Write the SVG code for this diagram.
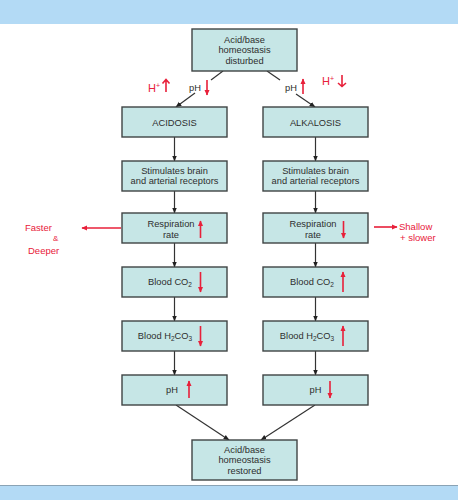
<svg xmlns="http://www.w3.org/2000/svg" width="458" height="500" viewBox="0 0 458 500">
<defs>
<style>
.box{fill:#c6e6e6;stroke:#3f4444;stroke-width:1.4}
.t{font-family:"Liberation Sans",Arial,sans-serif;font-size:9.3px;fill:#2e2e2e;text-anchor:middle}
.c{stroke:#333;stroke-width:1.2;fill:none}
.r{stroke:#e8203a;stroke-width:1.6;fill:none}
.hw{font-family:"Liberation Sans",sans-serif;fill:#e8203a}
</style>
<marker id="ah" viewBox="0 0 10 10" refX="9" refY="5" markerWidth="6" markerHeight="6" orient="auto-start-reverse" markerUnits="userSpaceOnUse"><path d="M0,1 L10,5 L0,9 Z" fill="#222"/></marker>
<marker id="rh" viewBox="0 0 10 10" refX="9" refY="5" markerWidth="6" markerHeight="6" orient="auto" markerUnits="userSpaceOnUse"><path d="M0,0.5 L10,5 L0,9.5 Z" fill="#e8203a"/></marker>
</defs>
<rect x="0" y="0" width="458" height="24" fill="#b3daf5"/>
<rect x="0" y="485" width="458" height="15" fill="#b3daf5"/>
<line x1="0" y1="485.5" x2="458" y2="485.5" stroke="#8aa3b5" stroke-width="1.2"/>

<g id="connectors">
<line class="c" x1="223" y1="71" x2="211" y2="80"/>
<line class="c" x1="195" y1="93" x2="176" y2="107" marker-end="url(#ah)"/>
<line class="c" x1="267" y1="71" x2="280" y2="80"/>
<line class="c" x1="296" y1="94" x2="315" y2="107" marker-end="url(#ah)"/>
<line class="c" x1="174.5" y1="137" x2="174.5" y2="161" marker-end="url(#ah)"/>
<line class="c" x1="174.5" y1="191" x2="174.5" y2="213" marker-end="url(#ah)"/>
<line class="c" x1="174.5" y1="243" x2="174.5" y2="267" marker-end="url(#ah)"/>
<line class="c" x1="174.5" y1="297" x2="174.5" y2="321" marker-end="url(#ah)"/>
<line class="c" x1="174.5" y1="351" x2="174.5" y2="375" marker-end="url(#ah)"/>
<line class="c" x1="315.5" y1="137" x2="315.5" y2="161" marker-end="url(#ah)"/>
<line class="c" x1="315.5" y1="191" x2="315.5" y2="213" marker-end="url(#ah)"/>
<line class="c" x1="315.5" y1="243" x2="315.5" y2="267" marker-end="url(#ah)"/>
<line class="c" x1="315.5" y1="297" x2="315.5" y2="321" marker-end="url(#ah)"/>
<line class="c" x1="315.5" y1="351" x2="315.5" y2="375" marker-end="url(#ah)"/>
<line class="c" x1="176" y1="405" x2="229" y2="440" marker-end="url(#ah)"/>
<line class="c" x1="315" y1="405" x2="261" y2="440" marker-end="url(#ah)"/>
</g>

<g id="label-ph-left">
<text class="t" x="195" y="90.5">pH</text>
<line class="r" x1="207" y1="80" x2="207" y2="95" marker-end="url(#rh)"/>
</g>
<g id="label-ph-right">
<text class="t" x="291" y="90.5">pH</text>
<line class="r" x1="303" y1="94" x2="303" y2="79" marker-end="url(#rh)"/>
</g>

<g id="n-top"><rect class="box" x="192" y="29" width="105" height="42"/>
<text class="t" x="244.5" y="42.5">Acid/base</text><text class="t" x="244.5" y="53.3">homeostasis</text><text class="t" x="244.5" y="64">disturbed</text></g>

<g id="n-acidosis"><rect class="box" x="122" y="107" width="105" height="30"/><text class="t" x="174.5" y="125.5">ACIDOSIS</text></g>
<g id="n-alkalosis"><rect class="box" x="263" y="107" width="105" height="30"/><text class="t" x="315.5" y="125.5">ALKALOSIS</text></g>

<g id="n-stim-l"><rect class="box" x="122" y="161" width="105" height="30"/><text class="t" x="174.5" y="173.5">Stimulates brain</text><text class="t" x="174.5" y="184.2">and arterial receptors</text></g>
<g id="n-stim-r"><rect class="box" x="263" y="161" width="105" height="30"/><text class="t" x="315.5" y="173.5">Stimulates brain</text><text class="t" x="315.5" y="184.2">and arterial receptors</text></g>

<g id="n-resp-l"><rect class="box" x="122" y="213" width="105" height="30"/><text class="t" x="171" y="227.3">Respiration</text><text class="t" x="171" y="237.5">rate</text>
<line class="r" x1="200.5" y1="238" x2="200.5" y2="221" marker-end="url(#rh)"/></g>
<g id="n-resp-r"><rect class="box" x="263" y="213" width="105" height="30"/><text class="t" x="313" y="227.3">Respiration</text><text class="t" x="313" y="237.5">rate</text>
<line class="r" x1="343.5" y1="221" x2="343.5" y2="238" marker-end="url(#rh)"/></g>

<g id="n-co2-l"><rect class="box" x="122" y="267" width="105" height="30"/><text class="t" x="170" y="284.5">Blood CO<tspan font-size="6.5" dy="2">2</tspan></text>
<line class="r" x1="200.5" y1="272" x2="200.5" y2="292" marker-end="url(#rh)"/></g>
<g id="n-co2-r"><rect class="box" x="263" y="267" width="105" height="30"/><text class="t" x="312" y="284.5">Blood CO<tspan font-size="6.5" dy="2">2</tspan></text>
<line class="r" x1="343" y1="292" x2="343" y2="272" marker-end="url(#rh)"/></g>

<g id="n-h2co3-l"><rect class="box" x="122" y="321" width="105" height="30"/><text class="t" x="165" y="338.5">Blood H<tspan font-size="6.5" dy="2">2</tspan><tspan dy="-2">CO</tspan><tspan font-size="6.5" dy="2">3</tspan></text>
<line class="r" x1="200.5" y1="326" x2="200.5" y2="346" marker-end="url(#rh)"/></g>
<g id="n-h2co3-r"><rect class="box" x="263" y="321" width="105" height="30"/><text class="t" x="307" y="338.5">Blood H<tspan font-size="6.5" dy="2">2</tspan><tspan dy="-2">CO</tspan><tspan font-size="6.5" dy="2">3</tspan></text>
<line class="r" x1="343" y1="346" x2="343" y2="326" marker-end="url(#rh)"/></g>

<g id="n-ph-l"><rect class="box" x="122" y="375" width="105" height="30"/><text class="t" x="172" y="392.5">pH</text>
<line class="r" x1="189" y1="398" x2="189" y2="381" marker-end="url(#rh)"/></g>
<g id="n-ph-r"><rect class="box" x="263" y="375" width="105" height="30"/><text class="t" x="315.5" y="392.5">pH</text>
<line class="r" x1="330" y1="381" x2="330" y2="398" marker-end="url(#rh)"/></g>

<g id="n-bottom"><rect class="box" x="192" y="440" width="105" height="40"/>
<text class="t" x="244.5" y="452.5">Acid/base</text><text class="t" x="244.5" y="463.3">homeostasis</text><text class="t" x="244.5" y="474">restored</text></g>

<g id="annotations">
<text class="hw" x="148" y="92" font-size="11">H<tspan font-size="7" dy="-4">+</tspan></text>
<path class="r" d="M166,92 V80 M162.5,83.5 L166,79.5 L169.5,83.5"/>
<text class="hw" x="322" y="85" font-size="11">H<tspan font-size="7" dy="-4">+</tspan></text>
<path class="r" d="M342,75 V86 M338,83 L342,86.5 L346,83"/>
<line class="r" x1="121" y1="228" x2="82" y2="228" marker-end="url(#rh)"/>
<text class="hw" x="25" y="231" font-size="9.5">Faster</text>
<text class="hw" x="53" y="241" font-size="8">&amp;</text>
<text class="hw" x="28" y="254" font-size="9.5">Deeper</text>
<line class="r" x1="374" y1="227" x2="397" y2="227" marker-end="url(#rh)"/>
<text class="hw" x="399" y="230" font-size="9.5">Shallow</text>
<text class="hw" x="400" y="241" font-size="9.5">+ slower</text>
</g>
</svg>
